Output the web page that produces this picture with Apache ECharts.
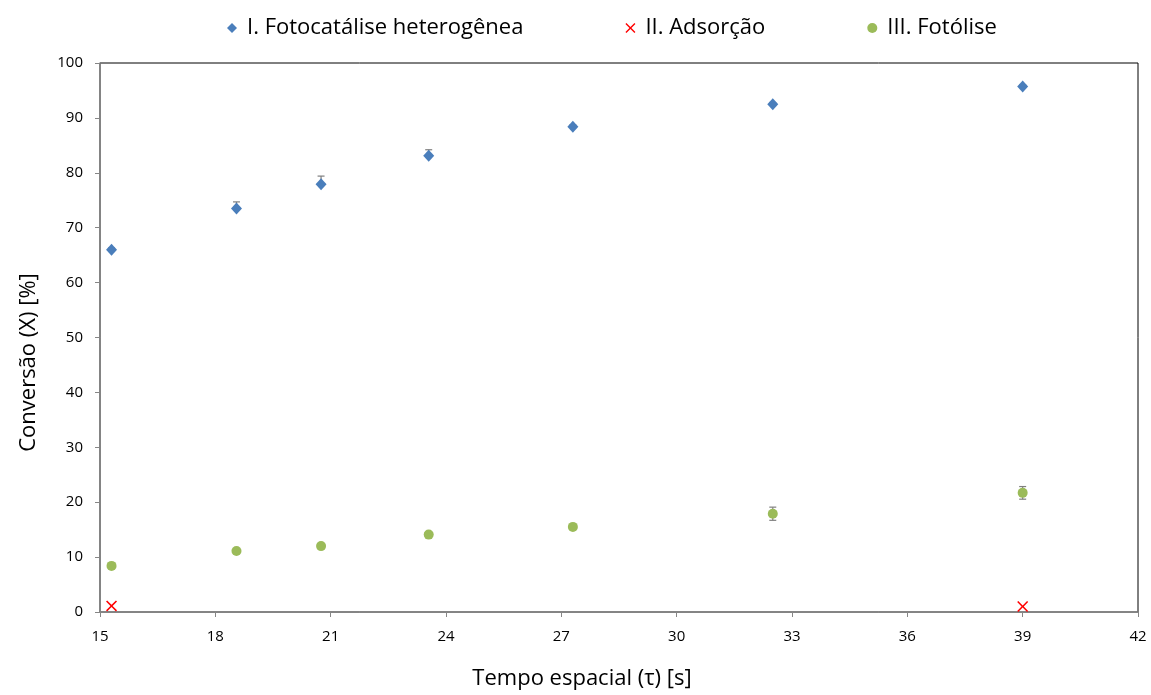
<!DOCTYPE html>
<html>
<head>
<meta charset="utf-8">
<script src="https://cdn.jsdelivr.net/npm/echarts@6/dist/echarts.min.js"></script>
<style>
  html, body { margin: 0; padding: 0; background: #fff; }
  #chart { width: 1151px; height: 695px; }
</style>
</head>
<body>
<div id="chart"></div>
<script>
// Tempo espacial (s) for each run
const tau = [15.3, 18.55, 20.75, 23.55, 27.3, 32.5, 39.0];

// I. Fotocatálise heterogênea: conversion and (upper-only) error
const fotocatalise = [66.0, 73.5, 77.9, 83.1, 88.4, 92.5, 95.7];
const fotocataliseErr = [0.3, 1.2, 1.5, 1.1, 0.3, 0.3, 0.3];

// II. Adsorção
const adsorcaoTau = [15.3, 39.0];
const adsorcao = [1.1, 1.0];

// III. Fotólise: conversion and symmetric error
const fotolise = [8.4, 11.1, 12.0, 14.1, 15.5, 17.9, 21.7];
const fotoliseErr = [0.3, 0.3, 0.3, 0.3, 0.3, 1.2, 1.15];

const xTicks = [15, 18, 21, 24, 27, 30, 33, 36, 39, 42];

const seriesNames = ['I. Fotocatálise heterogênea', 'II. Adsorção', 'III. Fotólise'];
const colors = ['#4A7EBB', '#FF0000', '#9BBB59'];

const FONT = '"Open Sans", Lato, sans-serif';
const crossPath = 'path://M0,1 L1,0 L5,4 L9,0 L10,1 L6,5 L10,9 L9,10 L5,6 L1,10 L0,9 L4,5 Z';

// error bar rows: [x, low, high, capBottom]
function errRows(vals, errs, plusOnly) {
  return tau.map((t, i) => [t, plusOnly ? vals[i] : vals[i] - errs[i], vals[i] + errs[i], plusOnly ? 0 : 1]);
}

function renderErr(params, api) {
  const x = api.value(0);
  const lo = api.coord([x, api.value(1)]);
  const hi = api.coord([x, api.value(2)]);
  const cap = 3.5;
  const style = { stroke: '#7F7F7F', lineWidth: 1.2 };
  const children = [
    { type: 'line', shape: { x1: lo[0], y1: lo[1], x2: hi[0], y2: hi[1] }, style },
    { type: 'line', shape: { x1: hi[0] - cap, y1: hi[1], x2: hi[0] + cap, y2: hi[1] }, style }
  ];
  if (api.value(3) === 1) {
    children.push({ type: 'line', shape: { x1: lo[0] - cap, y1: lo[1], x2: lo[0] + cap, y2: lo[1] }, style });
  }
  return { type: 'group', children };
}

const chart = echarts.init(document.getElementById('chart'), null, { renderer: 'canvas' });

chart.setOption({
  animation: false,
  backgroundColor: '#fff',
  textStyle: { fontFamily: FONT },
  legend: {
    top: 12,
    left: 222,
    itemGap: 102,
    itemWidth: 10,
    itemHeight: 10,
    textStyle: { fontFamily: FONT, fontSize: 22, color: '#000', padding: [0, 0, 0, 5] },
    data: [
      { name: seriesNames[0], icon: 'diamond', itemStyle: { color: colors[0] } },
      { name: seriesNames[1], icon: crossPath, itemStyle: { color: colors[1] } },
      { name: seriesNames[2], icon: 'circle', itemStyle: { color: colors[2] } }
    ]
  },
  grid: {
    left: 100, right: 13, top: 63, bottom: 78,
    show: true, borderColor: '#000', borderWidth: 1
  },
  xAxis: {
    type: 'value',
    min: 15, max: 42, interval: 3,
    name: 'Tempo espacial (τ) [s]',
    nameLocation: 'middle',
    nameGap: 56,
    nameTextStyle: { fontFamily: FONT, fontSize: 22, color: '#000', padding: [0, 74, 0, 0] },
    axisLine: { show: true, lineStyle: { color: '#868686', width: 1.5 } },
    axisTick: { show: true, length: 5, lineStyle: { color: '#868686' } },
    axisLabel: {
      fontFamily: FONT, fontSize: 15, color: '#000', margin: 17,
      formatter: v => (xTicks.includes(v) ? String(v) : '')
    },
    splitLine: { show: false }
  },
  yAxis: {
    type: 'value',
    min: 0, max: 100, interval: 10,
    name: 'Conversão (X) [%]',
    nameLocation: 'middle',
    nameGap: 60,
    nameTextStyle: { fontFamily: FONT, fontSize: 22, color: '#000', padding: [0, 50, 0, 0] },
    axisLine: { show: true, lineStyle: { color: '#868686', width: 1.5 } },
    axisTick: { show: true, length: 5, lineStyle: { color: '#868686' } },
    axisLabel: { fontFamily: FONT, fontSize: 15, color: '#000', margin: 17 },
    splitLine: { show: false }
  },
  series: [
    {
      type: 'custom', name: 'errI', silent: true, z: 1,
      renderItem: renderErr,
      data: errRows(fotocatalise, fotocataliseErr, true)
    },
    {
      type: 'custom', name: 'errIII', silent: true, z: 1,
      renderItem: renderErr,
      data: errRows(fotolise, fotoliseErr, false)
    },
    {
      name: seriesNames[0], type: 'scatter', z: 3,
      symbol: 'diamond', symbolSize: [11, 12],
      itemStyle: { color: colors[0], opacity: 1 },
      data: tau.map((t, i) => [t, fotocatalise[i]])
    },
    {
      name: seriesNames[1], type: 'scatter', z: 3,
      symbol: crossPath, symbolSize: 11,
      itemStyle: { color: colors[1], opacity: 1 },
      data: adsorcaoTau.map((t, i) => [t, adsorcao[i]])
    },
    {
      name: seriesNames[2], type: 'scatter', z: 3,
      symbol: 'circle', symbolSize: 10,
      itemStyle: { color: colors[2], opacity: 1 },
      data: tau.map((t, i) => [t, fotolise[i]])
    }
  ]
});
</script>
</body>
</html>
